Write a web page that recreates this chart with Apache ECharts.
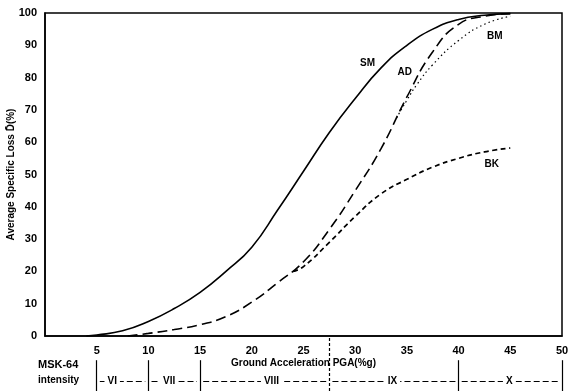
<!DOCTYPE html>
<html><head><meta charset="utf-8">
<script src="https://cdn.jsdelivr.net/npm/echarts@6/dist/echarts.min.js"></script>
<style>html,body{margin:0;padding:0;background:#fff}#c{width:570px;height:391px}</style>
</head><body><div id="c"></div>
<script>
// ---- data ----
const xTicks = [0,5,10,15,20,25,30,35,40,45,50];
const yTicks = [0,10,20,30,40,50,60,70,80,90,100];
const smX = [4,5,7.5,10,12.5,15,17.5,20,22.5,25,27.5,30,32.5,35,37.5,40,42.5,45];
const smY = [0,0.3,1.6,4.5,8.5,13.5,20,27.5,39,51,63,73.5,83,90,95,98,99.3,99.8];
const adX = [8,10,12.5,15,17.5,20,22.5,25,27.5,30,32.5,35,37.5,40,42.5,45];
const adY = [0,0.8,2,3.5,6,10.5,16.5,23,33,45,58,74,88,96.5,99,99.8];
const bmX = [34,35,36,37.5,40,42.5,45];
const bmY = [67.5,73,78,84,91.5,96.5,99];
const bkX = [24,25,27.5,30,32.5,35,37.5,40,42.5,45];
const bkY = [20,21.5,29,37,44,48.5,52.3,55,57,58.2];
const curveNames = ['SM','AD','BM','BK'];
const curveLabelAt = [[31.2,84.5],[34.8,81.7],[43.5,92.9],[43.2,53.3]];
const intensityNames = ['VI','VII','VIII','IX','X'];
const intensityCenters = [6.5,12,21.9,33.6,44.9];
const intensityBounds = [5,10,15,27.5,40,50];

const zip = (a,b)=>a.map((v,i)=>[v,b[i]]);
const F = 'Liberation Sans, Arial, sans-serif';
const lblPt = (i)=>({
  symbol:'circle', symbolSize:0, silent:true,
  data:[{coord:curveLabelAt[i], value:curveNames[i]}],
  label:{show:true, position:'inside', formatter:curveNames[i], color:'#000', fontFamily:F, fontWeight:'bold', fontSize:10}
});

// intensity row
const rowY = 0.18;
const boundLines = intensityBounds.map(b=>{
  const dashed = b===27.5;
  return [{coord:[b, 0], lineStyle:{type: dashed?[3,2]:'solid', width:1.2, color:'#000'}},
          {coord:[b, dashed?1:0.56]}];
});
const segLines = [];
for (let i=0;i<intensityBounds.length-1;i++){
  segLines.push([{coord:[intensityBounds[i]+0.3, rowY], lineStyle:{type:[6,3], width:1, color:'#000'}},
                 {coord:[intensityBounds[i+1]-0.3, rowY]}]);
}

const option = {
  animation:false,
  backgroundColor:'#fff',
  grid:[
    {left:45, right:8, top:13, height:323, show:true, borderColor:'#000', borderWidth:1.5, outerBoundsMode:'none'},
    {left:45, right:8, top:336, height:55, outerBoundsMode:'none'}
  ],
  xAxis:[
    {gridIndex:0, type:'value', min:0, max:50, interval:5,
     axisLine:{lineStyle:{color:'#000', width:1.5}}, axisTick:{show:false}, splitLine:{show:false},
     axisLabel:{color:'#000', fontFamily:F, fontWeight:'bold', fontSize:11, margin:9,
       formatter:v=> v===0 ? '' : String(v)},
     name:'Ground Acceleration PGA(%g)', nameLocation:'middle', nameGap:22, nameMoveOverlap:false,
     nameTextStyle:{color:'#000', fontFamily:F, fontWeight:'bold', fontSize:10}},
    {gridIndex:1, type:'value', min:0, max:50, show:false}
  ],
  yAxis:[
    {gridIndex:0, type:'value', min:0, max:100, interval:10,
     axisLine:{show:true, lineStyle:{color:'#000', width:1.5}}, axisTick:{show:false}, splitLine:{show:false},
     axisLabel:{color:'#000', fontFamily:F, fontWeight:'bold', fontSize:11, margin:8},
     name:'Average Specific Loss D\u0304(%)', nameLocation:'middle', nameGap:29, nameRotate:90, nameMoveOverlap:false,
     nameTextStyle:{color:'#000', fontFamily:F, fontWeight:'bold', fontSize:10}},
    {gridIndex:1, type:'value', min:0, max:1, show:false}
  ],
  graphic:[
    {type:'text', left:38, top:359, style:{text:'MSK-64', font:'bold 11px '+F, fill:'#000'}},
    {type:'text', left:38, top:375, style:{text:'intensity', font:'bold 10px '+F, fill:'#000'}}
  ],
  series:[
    {type:'line', name:'SM', xAxisIndex:0, yAxisIndex:0, data:zip(smX,smY), smooth:0.5, showSymbol:false,
     lineStyle:{color:'#000', width:1.6}, markPoint:lblPt(0)},
    {type:'line', name:'AD', xAxisIndex:0, yAxisIndex:0, data:zip(adX,adY), smooth:0.5, showSymbol:false,
     lineStyle:{color:'#000', width:1.6, type:[10,5]}, markPoint:lblPt(1)},
    {type:'line', name:'BM', xAxisIndex:0, yAxisIndex:0, data:zip(bmX,bmY), smooth:0.5, showSymbol:false,
     lineStyle:{color:'#000', width:1.2, type:[1.5,3]}, markPoint:lblPt(2)},
    {type:'line', name:'BK', xAxisIndex:0, yAxisIndex:0, data:zip(bkX,bkY), smooth:0.5, showSymbol:false,
     lineStyle:{color:'#000', width:1.7, type:[5,3.5]}, markPoint:lblPt(3)},
    {type:'line', xAxisIndex:1, yAxisIndex:1, data:[], silent:true, z:1,
     markLine:{silent:true, symbol:['none','none'], label:{show:false}, animation:false,
       data: boundLines.concat(segLines)}},
    {type:'scatter', xAxisIndex:1, yAxisIndex:1, symbolSize:0, silent:true, z:10,
     itemStyle:{opacity:1},
     data:intensityNames.map((n,i)=>({value:[intensityCenters[i], rowY], name:n})),
     label:{show:true, position:'inside', formatter:p=>p.name, color:'#000', backgroundColor:'#fff',
       padding:[0,3], fontFamily:F, fontWeight:'bold', fontSize:10}}
  ]
};
echarts.init(document.getElementById('c')).setOption(option);
</script></body></html>
